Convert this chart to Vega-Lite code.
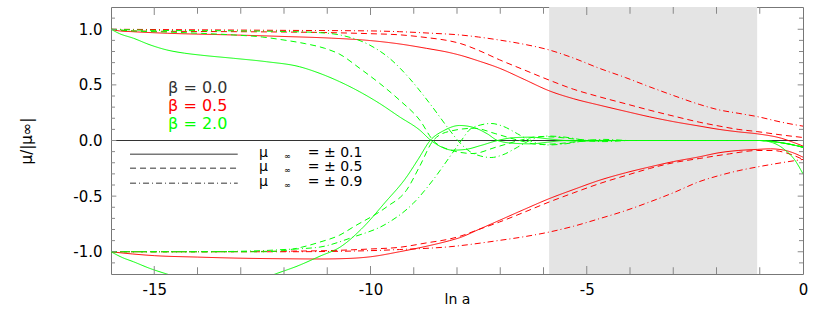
{
 "$schema": "https://vega.github.io/schema/vega-lite/v6.json",
 "width": 692, "height": 267,
 "autosize": {"type": "none"},
 "padding": {"left": 111, "top": 7, "right": 27, "bottom": 37},
 "background": "white",
 "config": {
  "view": {"stroke": "#777", "strokeWidth": 1},
  "font": "DejaVu Sans",
  "axis": {"grid": false, "domain": false, "labelColor": "#000", "titleColor": "#000", "labelFont": "DejaVu Sans", "titleFont": "DejaVu Sans", "titleFontWeight": "normal", "labelOverlap": false, "labelFlush": false}
 },
 "datasets": {
  "curves": [
   {"id":"K","b":"0.0","m":"0.1","x":-16,"y":0},{"id":"K","b":"0.0","m":"0.1","x":0,"y":0},

   {"id":"R1u","b":"0.5","m":"0.1","x":-16,"y":1.0},{"id":"R1u","b":"0.5","m":"0.1","x":-15.8,"y":0.985},{"id":"R1u","b":"0.5","m":"0.1","x":-15.5,"y":0.978},{"id":"R1u","b":"0.5","m":"0.1","x":-14.7,"y":0.964},{"id":"R1u","b":"0.5","m":"0.1","x":-13.2,"y":0.949},{"id":"R1u","b":"0.5","m":"0.1","x":-12,"y":0.935},{"id":"R1u","b":"0.5","m":"0.1","x":-10.9,"y":0.92},{"id":"R1u","b":"0.5","m":"0.1","x":-10,"y":0.898},{"id":"R1u","b":"0.5","m":"0.1","x":-9.33,"y":0.868},{"id":"R1u","b":"0.5","m":"0.1","x":-8.7,"y":0.828},{"id":"R1u","b":"0.5","m":"0.1","x":-8.17,"y":0.79},{"id":"R1u","b":"0.5","m":"0.1","x":-7.94,"y":0.768},{"id":"R1u","b":"0.5","m":"0.1","x":-7.5,"y":0.715},{"id":"R1u","b":"0.5","m":"0.1","x":-7.02,"y":0.65},{"id":"R1u","b":"0.5","m":"0.1","x":-6.45,"y":0.55},{"id":"R1u","b":"0.5","m":"0.1","x":-5.87,"y":0.447},{"id":"R1u","b":"0.5","m":"0.1","x":-5.3,"y":0.375},{"id":"R1u","b":"0.5","m":"0.1","x":-4.71,"y":0.318},{"id":"R1u","b":"0.5","m":"0.1","x":-4.1,"y":0.262},{"id":"R1u","b":"0.5","m":"0.1","x":-3.55,"y":0.213},{"id":"R1u","b":"0.5","m":"0.1","x":-3,"y":0.17},{"id":"R1u","b":"0.5","m":"0.1","x":-2.4,"y":0.13},{"id":"R1u","b":"0.5","m":"0.1","x":-1.94,"y":0.1},{"id":"R1u","b":"0.5","m":"0.1","x":-1.5,"y":0.078},{"id":"R1u","b":"0.5","m":"0.1","x":-1.06,"y":0.06},{"id":"R1u","b":"0.5","m":"0.1","x":-0.5,"y":0.02},{"id":"R1u","b":"0.5","m":"0.1","x":-0.2,"y":-0.02},{"id":"R1u","b":"0.5","m":"0.1","x":0,"y":-0.05},

   {"id":"R5u","b":"0.5","m":"0.5","x":-16,"y":1.0},{"id":"R5u","b":"0.5","m":"0.5","x":-15.5,"y":0.985},{"id":"R5u","b":"0.5","m":"0.5","x":-14,"y":0.98},{"id":"R5u","b":"0.5","m":"0.5","x":-12,"y":0.975},{"id":"R5u","b":"0.5","m":"0.5","x":-11,"y":0.97},{"id":"R5u","b":"0.5","m":"0.5","x":-10,"y":0.96},{"id":"R5u","b":"0.5","m":"0.5","x":-9.33,"y":0.95},{"id":"R5u","b":"0.5","m":"0.5","x":-8.7,"y":0.925},{"id":"R5u","b":"0.5","m":"0.5","x":-8.17,"y":0.895},{"id":"R5u","b":"0.5","m":"0.5","x":-7.94,"y":0.874},{"id":"R5u","b":"0.5","m":"0.5","x":-7.5,"y":0.81},{"id":"R5u","b":"0.5","m":"0.5","x":-7.02,"y":0.726},{"id":"R5u","b":"0.5","m":"0.5","x":-6.45,"y":0.635},{"id":"R5u","b":"0.5","m":"0.5","x":-5.87,"y":0.543},{"id":"R5u","b":"0.5","m":"0.5","x":-5.3,"y":0.46},{"id":"R5u","b":"0.5","m":"0.5","x":-4.71,"y":0.393},{"id":"R5u","b":"0.5","m":"0.5","x":-4.1,"y":0.33},{"id":"R5u","b":"0.5","m":"0.5","x":-3.55,"y":0.273},{"id":"R5u","b":"0.5","m":"0.5","x":-3,"y":0.22},{"id":"R5u","b":"0.5","m":"0.5","x":-2.4,"y":0.165},{"id":"R5u","b":"0.5","m":"0.5","x":-1.94,"y":0.13},{"id":"R5u","b":"0.5","m":"0.5","x":-1.5,"y":0.1},{"id":"R5u","b":"0.5","m":"0.5","x":-1.06,"y":0.08},{"id":"R5u","b":"0.5","m":"0.5","x":-0.5,"y":0.05},{"id":"R5u","b":"0.5","m":"0.5","x":0,"y":0.027},

   {"id":"R9u","b":"0.5","m":"0.9","x":-16,"y":1.0},{"id":"R9u","b":"0.5","m":"0.9","x":-14,"y":0.995},{"id":"R9u","b":"0.5","m":"0.9","x":-12,"y":0.99},{"id":"R9u","b":"0.5","m":"0.9","x":-10,"y":0.985},{"id":"R9u","b":"0.5","m":"0.9","x":-9.33,"y":0.978},{"id":"R9u","b":"0.5","m":"0.9","x":-8.63,"y":0.965},{"id":"R9u","b":"0.5","m":"0.9","x":-7.94,"y":0.949},{"id":"R9u","b":"0.5","m":"0.9","x":-7.5,"y":0.93},{"id":"R9u","b":"0.5","m":"0.9","x":-7.02,"y":0.903},{"id":"R9u","b":"0.5","m":"0.9","x":-6.45,"y":0.865},{"id":"R9u","b":"0.5","m":"0.9","x":-5.87,"y":0.814},{"id":"R9u","b":"0.5","m":"0.9","x":-5.3,"y":0.74},{"id":"R9u","b":"0.5","m":"0.9","x":-4.71,"y":0.649},{"id":"R9u","b":"0.5","m":"0.9","x":-4.1,"y":0.565},{"id":"R9u","b":"0.5","m":"0.9","x":-3.55,"y":0.483},{"id":"R9u","b":"0.5","m":"0.9","x":-3,"y":0.405},{"id":"R9u","b":"0.5","m":"0.9","x":-2.4,"y":0.325},{"id":"R9u","b":"0.5","m":"0.9","x":-1.94,"y":0.275},{"id":"R9u","b":"0.5","m":"0.9","x":-1.5,"y":0.245},{"id":"R9u","b":"0.5","m":"0.9","x":-1.06,"y":0.215},{"id":"R9u","b":"0.5","m":"0.9","x":-0.5,"y":0.165},{"id":"R9u","b":"0.5","m":"0.9","x":0,"y":0.129},

   {"id":"R1l","b":"0.5","m":"0.1","x":-16,"y":-1.0},{"id":"R1l","b":"0.5","m":"0.1","x":-15.5,"y":-1.02},{"id":"R1l","b":"0.5","m":"0.1","x":-15,"y":-1.035},{"id":"R1l","b":"0.5","m":"0.1","x":-14,"y":-1.048},{"id":"R1l","b":"0.5","m":"0.1","x":-13,"y":-1.058},{"id":"R1l","b":"0.5","m":"0.1","x":-12,"y":-1.063},{"id":"R1l","b":"0.5","m":"0.1","x":-11.17,"y":-1.065},{"id":"R1l","b":"0.5","m":"0.1","x":-10.5,"y":-1.06},{"id":"R1l","b":"0.5","m":"0.1","x":-10,"y":-1.045},{"id":"R1l","b":"0.5","m":"0.1","x":-9.33,"y":-1.0},{"id":"R1l","b":"0.5","m":"0.1","x":-8.7,"y":-0.95},{"id":"R1l","b":"0.5","m":"0.1","x":-8.17,"y":-0.9},{"id":"R1l","b":"0.5","m":"0.1","x":-7.94,"y":-0.874},{"id":"R1l","b":"0.5","m":"0.1","x":-7.5,"y":-0.8},{"id":"R1l","b":"0.5","m":"0.1","x":-7.02,"y":-0.718},{"id":"R1l","b":"0.5","m":"0.1","x":-6.45,"y":-0.62},{"id":"R1l","b":"0.5","m":"0.1","x":-5.87,"y":-0.523},{"id":"R1l","b":"0.5","m":"0.1","x":-5.3,"y":-0.44},{"id":"R1l","b":"0.5","m":"0.1","x":-4.71,"y":-0.358},{"id":"R1l","b":"0.5","m":"0.1","x":-4.1,"y":-0.29},{"id":"R1l","b":"0.5","m":"0.1","x":-3.55,"y":-0.238},{"id":"R1l","b":"0.5","m":"0.1","x":-3,"y":-0.19},{"id":"R1l","b":"0.5","m":"0.1","x":-2.4,"y":-0.147},{"id":"R1l","b":"0.5","m":"0.1","x":-1.94,"y":-0.11},{"id":"R1l","b":"0.5","m":"0.1","x":-1.5,"y":-0.09},{"id":"R1l","b":"0.5","m":"0.1","x":-1.06,"y":-0.08},{"id":"R1l","b":"0.5","m":"0.1","x":-0.75,"y":-0.075},{"id":"R1l","b":"0.5","m":"0.1","x":-0.4,"y":-0.09},{"id":"R1l","b":"0.5","m":"0.1","x":-0.2,"y":-0.115},{"id":"R1l","b":"0.5","m":"0.1","x":0,"y":-0.15},

   {"id":"R5l","b":"0.5","m":"0.5","x":-16,"y":-1.0},{"id":"R5l","b":"0.5","m":"0.5","x":-14,"y":-1.0},{"id":"R5l","b":"0.5","m":"0.5","x":-12,"y":-0.995},{"id":"R5l","b":"0.5","m":"0.5","x":-11,"y":-0.99},{"id":"R5l","b":"0.5","m":"0.5","x":-10,"y":-0.975},{"id":"R5l","b":"0.5","m":"0.5","x":-9.33,"y":-0.96},{"id":"R5l","b":"0.5","m":"0.5","x":-8.7,"y":-0.92},{"id":"R5l","b":"0.5","m":"0.5","x":-8.17,"y":-0.885},{"id":"R5l","b":"0.5","m":"0.5","x":-7.94,"y":-0.862},{"id":"R5l","b":"0.5","m":"0.5","x":-7.5,"y":-0.8},{"id":"R5l","b":"0.5","m":"0.5","x":-7.02,"y":-0.733},{"id":"R5l","b":"0.5","m":"0.5","x":-6.45,"y":-0.645},{"id":"R5l","b":"0.5","m":"0.5","x":-5.87,"y":-0.553},{"id":"R5l","b":"0.5","m":"0.5","x":-5.3,"y":-0.47},{"id":"R5l","b":"0.5","m":"0.5","x":-4.71,"y":-0.388},{"id":"R5l","b":"0.5","m":"0.5","x":-4.1,"y":-0.315},{"id":"R5l","b":"0.5","m":"0.5","x":-3.55,"y":-0.252},{"id":"R5l","b":"0.5","m":"0.5","x":-3,"y":-0.2},{"id":"R5l","b":"0.5","m":"0.5","x":-2.4,"y":-0.162},{"id":"R5l","b":"0.5","m":"0.5","x":-1.7,"y":-0.12},{"id":"R5l","b":"0.5","m":"0.5","x":-1.06,"y":-0.09},{"id":"R5l","b":"0.5","m":"0.5","x":-0.7,"y":-0.09},{"id":"R5l","b":"0.5","m":"0.5","x":-0.4,"y":-0.11},{"id":"R5l","b":"0.5","m":"0.5","x":0,"y":-0.17},

   {"id":"R9l","b":"0.5","m":"0.9","x":-16,"y":-1.0},{"id":"R9l","b":"0.5","m":"0.9","x":-14,"y":-1.0},{"id":"R9l","b":"0.5","m":"0.9","x":-12,"y":-1.0},{"id":"R9l","b":"0.5","m":"0.9","x":-10,"y":-0.99},{"id":"R9l","b":"0.5","m":"0.9","x":-9.33,"y":-0.98},{"id":"R9l","b":"0.5","m":"0.9","x":-8.17,"y":-0.955},{"id":"R9l","b":"0.5","m":"0.9","x":-7.02,"y":-0.898},{"id":"R9l","b":"0.5","m":"0.9","x":-6.45,"y":-0.865},{"id":"R9l","b":"0.5","m":"0.9","x":-5.87,"y":-0.823},{"id":"R9l","b":"0.5","m":"0.9","x":-5.3,"y":-0.77},{"id":"R9l","b":"0.5","m":"0.9","x":-4.71,"y":-0.703},{"id":"R9l","b":"0.5","m":"0.9","x":-4.1,"y":-0.63},{"id":"R9l","b":"0.5","m":"0.9","x":-3.55,"y":-0.553},{"id":"R9l","b":"0.5","m":"0.9","x":-3,"y":-0.47},{"id":"R9l","b":"0.5","m":"0.9","x":-2.4,"y":-0.37},{"id":"R9l","b":"0.5","m":"0.9","x":-1.94,"y":-0.315},{"id":"R9l","b":"0.5","m":"0.9","x":-1.5,"y":-0.272},{"id":"R9l","b":"0.5","m":"0.9","x":-1.06,"y":-0.238},{"id":"R9l","b":"0.5","m":"0.9","x":-0.5,"y":-0.2},{"id":"R9l","b":"0.5","m":"0.9","x":0,"y":-0.17},

   {"id":"G1u","b":"2.0","m":"0.1","x":-16,"y":1.0},{"id":"G1u","b":"2.0","m":"0.1","x":-15.8,"y":0.96},{"id":"G1u","b":"2.0","m":"0.1","x":-15.48,"y":0.919},{"id":"G1u","b":"2.0","m":"0.1","x":-15.1,"y":0.86},{"id":"G1u","b":"2.0","m":"0.1","x":-14.71,"y":0.814},{"id":"G1u","b":"2.0","m":"0.1","x":-14.3,"y":0.785},{"id":"G1u","b":"2.0","m":"0.1","x":-13.94,"y":0.768},{"id":"G1u","b":"2.0","m":"0.1","x":-13.17,"y":0.739},{"id":"G1u","b":"2.0","m":"0.1","x":-12.4,"y":0.708},{"id":"G1u","b":"2.0","m":"0.1","x":-11.64,"y":0.663},{"id":"G1u","b":"2.0","m":"0.1","x":-11.17,"y":0.603},{"id":"G1u","b":"2.0","m":"0.1","x":-10.71,"y":0.528},{"id":"G1u","b":"2.0","m":"0.1","x":-10.25,"y":0.438},{"id":"G1u","b":"2.0","m":"0.1","x":-9.79,"y":0.333},{"id":"G1u","b":"2.0","m":"0.1","x":-9.33,"y":0.213},{"id":"G1u","b":"2.0","m":"0.1","x":-8.86,"y":0.093},{"id":"G1u","b":"2.0","m":"0.1","x":-8.6,"y":0.0},{"id":"G1u","b":"2.0","m":"0.1","x":-8.35,"y":-0.06},{"id":"G1u","b":"2.0","m":"0.1","x":-8.1,"y":-0.087},{"id":"G1u","b":"2.0","m":"0.1","x":-7.8,"y":-0.08},{"id":"G1u","b":"2.0","m":"0.1","x":-7.45,"y":-0.045},{"id":"G1u","b":"2.0","m":"0.1","x":-7.06,"y":0.0},{"id":"G1u","b":"2.0","m":"0.1","x":-6.7,"y":0.025},{"id":"G1u","b":"2.0","m":"0.1","x":-6.3,"y":0.03},{"id":"G1u","b":"2.0","m":"0.1","x":-5.9,"y":0.015},{"id":"G1u","b":"2.0","m":"0.1","x":-5.5,"y":0.0},{"id":"G1u","b":"2.0","m":"0.1","x":-5,"y":-0.005},{"id":"G1u","b":"2.0","m":"0.1","x":-4,"y":0.0},{"id":"G1u","b":"2.0","m":"0.1","x":-1,"y":0.0},{"id":"G1u","b":"2.0","m":"0.1","x":-0.7,"y":-0.02},{"id":"G1u","b":"2.0","m":"0.1","x":-0.4,"y":-0.09},{"id":"G1u","b":"2.0","m":"0.1","x":-0.2,"y":-0.17},{"id":"G1u","b":"2.0","m":"0.1","x":0,"y":-0.3},

   {"id":"G1l","b":"2.0","m":"0.1","x":-16,"y":-1.0},{"id":"G1l","b":"2.0","m":"0.1","x":-15.75,"y":-1.05},{"id":"G1l","b":"2.0","m":"0.1","x":-15.48,"y":-1.09},{"id":"G1l","b":"2.0","m":"0.1","x":-15.1,"y":-1.15},{"id":"G1l","b":"2.0","m":"0.1","x":-14.71,"y":-1.2},{"id":"G1l","b":"2.0","m":"0.1","x":-14.2,"y":-1.26},{"id":"G1l","b":"2.0","m":"0.1","x":-13.6,"y":-1.3},{"id":"G1l","b":"2.0","m":"0.1","x":-13.0,"y":-1.3},{"id":"G1l","b":"2.0","m":"0.1","x":-12.6,"y":-1.26},{"id":"G1l","b":"2.0","m":"0.1","x":-12.2,"y":-1.2},{"id":"G1l","b":"2.0","m":"0.1","x":-11.7,"y":-1.13},{"id":"G1l","b":"2.0","m":"0.1","x":-11.17,"y":-1.04},{"id":"G1l","b":"2.0","m":"0.1","x":-10.71,"y":-0.96},{"id":"G1l","b":"2.0","m":"0.1","x":-10.17,"y":-0.78},{"id":"G1l","b":"2.0","m":"0.1","x":-9.67,"y":-0.56},{"id":"G1l","b":"2.0","m":"0.1","x":-9.17,"y":-0.33},{"id":"G1l","b":"2.0","m":"0.1","x":-8.9,"y":-0.17},{"id":"G1l","b":"2.0","m":"0.1","x":-8.62,"y":0.0},{"id":"G1l","b":"2.0","m":"0.1","x":-8.3,"y":0.09},{"id":"G1l","b":"2.0","m":"0.1","x":-7.94,"y":0.135},{"id":"G1l","b":"2.0","m":"0.1","x":-7.6,"y":0.115},{"id":"G1l","b":"2.0","m":"0.1","x":-7.3,"y":0.06},{"id":"G1l","b":"2.0","m":"0.1","x":-7.06,"y":0.0},{"id":"G1l","b":"2.0","m":"0.1","x":-6.7,"y":-0.025},{"id":"G1l","b":"2.0","m":"0.1","x":-6.3,"y":-0.03},{"id":"G1l","b":"2.0","m":"0.1","x":-5.9,"y":-0.015},{"id":"G1l","b":"2.0","m":"0.1","x":-5.5,"y":0.0},{"id":"G1l","b":"2.0","m":"0.1","x":-4,"y":0.0},{"id":"G1l","b":"2.0","m":"0.1","x":-1,"y":0.0},{"id":"G1l","b":"2.0","m":"0.1","x":-0.5,"y":-0.02},{"id":"G1l","b":"2.0","m":"0.1","x":0,"y":-0.06},

   {"id":"G5u","b":"2.0","m":"0.5","x":-16,"y":1.0},{"id":"G5u","b":"2.0","m":"0.5","x":-15.5,"y":0.985},{"id":"G5u","b":"2.0","m":"0.5","x":-14.7,"y":0.975},{"id":"G5u","b":"2.0","m":"0.5","x":-13.9,"y":0.963},{"id":"G5u","b":"2.0","m":"0.5","x":-13.17,"y":0.949},{"id":"G5u","b":"2.0","m":"0.5","x":-12.5,"y":0.93},{"id":"G5u","b":"2.0","m":"0.5","x":-12.0,"y":0.903},{"id":"G5u","b":"2.0","m":"0.5","x":-11.5,"y":0.87},{"id":"G5u","b":"2.0","m":"0.5","x":-11.06,"y":0.829},{"id":"G5u","b":"2.0","m":"0.5","x":-10.71,"y":0.775},{"id":"G5u","b":"2.0","m":"0.5","x":-10.25,"y":0.649},{"id":"G5u","b":"2.0","m":"0.5","x":-9.79,"y":0.514},{"id":"G5u","b":"2.0","m":"0.5","x":-9.33,"y":0.363},{"id":"G5u","b":"2.0","m":"0.5","x":-8.86,"y":0.183},{"id":"G5u","b":"2.0","m":"0.5","x":-8.55,"y":0.0},{"id":"G5u","b":"2.0","m":"0.5","x":-8.2,"y":-0.08},{"id":"G5u","b":"2.0","m":"0.5","x":-7.63,"y":-0.117},{"id":"G5u","b":"2.0","m":"0.5","x":-7.1,"y":-0.06},{"id":"G5u","b":"2.0","m":"0.5","x":-6.56,"y":0.0},{"id":"G5u","b":"2.0","m":"0.5","x":-6.1,"y":0.035},{"id":"G5u","b":"2.0","m":"0.5","x":-5.7,"y":0.03},{"id":"G5u","b":"2.0","m":"0.5","x":-5.2,"y":0.01},{"id":"G5u","b":"2.0","m":"0.5","x":-4.5,"y":0.0},{"id":"G5u","b":"2.0","m":"0.5","x":-1,"y":0.0},{"id":"G5u","b":"2.0","m":"0.5","x":-0.5,"y":-0.02},{"id":"G5u","b":"2.0","m":"0.5","x":0,"y":-0.06},

   {"id":"G5l","b":"2.0","m":"0.5","x":-16,"y":-1.0},{"id":"G5l","b":"2.0","m":"0.5","x":-14,"y":-1.0},{"id":"G5l","b":"2.0","m":"0.5","x":-12.5,"y":-1.0},{"id":"G5l","b":"2.0","m":"0.5","x":-12.02,"y":-0.99},{"id":"G5l","b":"2.0","m":"0.5","x":-11.6,"y":-0.96},{"id":"G5l","b":"2.0","m":"0.5","x":-11.17,"y":-0.913},{"id":"G5l","b":"2.0","m":"0.5","x":-10.71,"y":-0.85},{"id":"G5l","b":"2.0","m":"0.5","x":-10.4,"y":-0.778},{"id":"G5l","b":"2.0","m":"0.5","x":-9.63,"y":-0.598},{"id":"G5l","b":"2.0","m":"0.5","x":-9.17,"y":-0.448},{"id":"G5l","b":"2.0","m":"0.5","x":-8.86,"y":-0.23},{"id":"G5l","b":"2.0","m":"0.5","x":-8.55,"y":0.0},{"id":"G5l","b":"2.0","m":"0.5","x":-8.2,"y":0.08},{"id":"G5l","b":"2.0","m":"0.5","x":-7.6,"y":0.11},{"id":"G5l","b":"2.0","m":"0.5","x":-7.1,"y":0.06},{"id":"G5l","b":"2.0","m":"0.5","x":-6.56,"y":0.0},{"id":"G5l","b":"2.0","m":"0.5","x":-6.1,"y":-0.035},{"id":"G5l","b":"2.0","m":"0.5","x":-5.7,"y":-0.03},{"id":"G5l","b":"2.0","m":"0.5","x":-5.2,"y":-0.01},{"id":"G5l","b":"2.0","m":"0.5","x":-4.5,"y":0.0},{"id":"G5l","b":"2.0","m":"0.5","x":-1,"y":0.0},{"id":"G5l","b":"2.0","m":"0.5","x":-0.5,"y":-0.02},{"id":"G5l","b":"2.0","m":"0.5","x":0,"y":-0.06},

   {"id":"G9u","b":"2.0","m":"0.9","x":-16,"y":1.0},{"id":"G9u","b":"2.0","m":"0.9","x":-15,"y":0.99},{"id":"G9u","b":"2.0","m":"0.9","x":-13,"y":0.985},{"id":"G9u","b":"2.0","m":"0.9","x":-12,"y":0.98},{"id":"G9u","b":"2.0","m":"0.9","x":-11.2,"y":0.97},{"id":"G9u","b":"2.0","m":"0.9","x":-10.71,"y":0.949},{"id":"G9u","b":"2.0","m":"0.9","x":-10.02,"y":0.858},{"id":"G9u","b":"2.0","m":"0.9","x":-9.56,"y":0.739},{"id":"G9u","b":"2.0","m":"0.9","x":-9.1,"y":0.559},{"id":"G9u","b":"2.0","m":"0.9","x":-8.63,"y":0.333},{"id":"G9u","b":"2.0","m":"0.9","x":-8.17,"y":0.093},{"id":"G9u","b":"2.0","m":"0.9","x":-7.98,"y":0.0},{"id":"G9u","b":"2.0","m":"0.9","x":-7.7,"y":-0.1},{"id":"G9u","b":"2.0","m":"0.9","x":-7.45,"y":-0.14},{"id":"G9u","b":"2.0","m":"0.9","x":-7.21,"y":-0.153},{"id":"G9u","b":"2.0","m":"0.9","x":-6.95,"y":-0.13},{"id":"G9u","b":"2.0","m":"0.9","x":-6.6,"y":-0.06},{"id":"G9u","b":"2.0","m":"0.9","x":-6.32,"y":0.0},{"id":"G9u","b":"2.0","m":"0.9","x":-5.9,"y":0.04},{"id":"G9u","b":"2.0","m":"0.9","x":-5.5,"y":0.03},{"id":"G9u","b":"2.0","m":"0.9","x":-5.0,"y":0.0},{"id":"G9u","b":"2.0","m":"0.9","x":-4.6,"y":-0.01},{"id":"G9u","b":"2.0","m":"0.9","x":-4,"y":0.0},{"id":"G9u","b":"2.0","m":"0.9","x":-1,"y":0.0},{"id":"G9u","b":"2.0","m":"0.9","x":-0.5,"y":-0.02},{"id":"G9u","b":"2.0","m":"0.9","x":0,"y":-0.06},

   {"id":"G9l","b":"2.0","m":"0.9","x":-16,"y":-1.0},{"id":"G9l","b":"2.0","m":"0.9","x":-14,"y":-1.0},{"id":"G9l","b":"2.0","m":"0.9","x":-12.5,"y":-0.99},{"id":"G9l","b":"2.0","m":"0.9","x":-12,"y":-0.98},{"id":"G9l","b":"2.0","m":"0.9","x":-11.5,"y":-0.97},{"id":"G9l","b":"2.0","m":"0.9","x":-11.17,"y":-0.958},{"id":"G9l","b":"2.0","m":"0.9","x":-10.4,"y":-0.868},{"id":"G9l","b":"2.0","m":"0.9","x":-9.63,"y":-0.748},{"id":"G9l","b":"2.0","m":"0.9","x":-9.02,"y":-0.568},{"id":"G9l","b":"2.0","m":"0.9","x":-8.56,"y":-0.358},{"id":"G9l","b":"2.0","m":"0.9","x":-8.17,"y":-0.148},{"id":"G9l","b":"2.0","m":"0.9","x":-7.9,"y":0.0},{"id":"G9l","b":"2.0","m":"0.9","x":-7.7,"y":0.1},{"id":"G9l","b":"2.0","m":"0.9","x":-7.45,"y":0.14},{"id":"G9l","b":"2.0","m":"0.9","x":-7.21,"y":0.153},{"id":"G9l","b":"2.0","m":"0.9","x":-6.95,"y":0.13},{"id":"G9l","b":"2.0","m":"0.9","x":-6.6,"y":0.06},{"id":"G9l","b":"2.0","m":"0.9","x":-6.32,"y":0.0},{"id":"G9l","b":"2.0","m":"0.9","x":-5.9,"y":-0.04},{"id":"G9l","b":"2.0","m":"0.9","x":-5.5,"y":-0.03},{"id":"G9l","b":"2.0","m":"0.9","x":-5.0,"y":0.0},{"id":"G9l","b":"2.0","m":"0.9","x":-4.6,"y":0.01},{"id":"G9l","b":"2.0","m":"0.9","x":-4,"y":0.0},{"id":"G9l","b":"2.0","m":"0.9","x":-1,"y":0.0},{"id":"G9l","b":"2.0","m":"0.9","x":-0.5,"y":-0.02},{"id":"G9l","b":"2.0","m":"0.9","x":0,"y":-0.06}
  ],
  "xt": [
   {"v": -15, "k": "xM"}, {"v": -10, "k": "xM"}, {"v": -5, "k": "xM"},
   {"v": -14, "k": "xm"}, {"v": -13, "k": "xm"}, {"v": -12, "k": "xm"}, {"v": -11, "k": "xm"}, {"v": -9, "k": "xm"}, {"v": -8, "k": "xm"}, {"v": -7, "k": "xm"}, {"v": -6, "k": "xm"}, {"v": -4, "k": "xm"}, {"v": -3, "k": "xm"}, {"v": -2, "k": "xm"}, {"v": -1, "k": "xm"}
  ],
  "yt": [
   {"v": -1.0, "k": "yM"}, {"v": -0.5, "k": "yM"}, {"v": 0, "k": "yM"}, {"v": 0.5, "k": "yM"}, {"v": 1.0, "k": "yM"},
   {"v": -1.1, "k": "ym"}, {"v": -0.9, "k": "ym"}, {"v": -0.8, "k": "ym"}, {"v": -0.7, "k": "ym"}, {"v": -0.6, "k": "ym"}, {"v": -0.4, "k": "ym"}, {"v": -0.3, "k": "ym"}, {"v": -0.2, "k": "ym"}, {"v": -0.1, "k": "ym"},
   {"v": 0.1, "k": "ym"}, {"v": 0.2, "k": "ym"}, {"v": 0.3, "k": "ym"}, {"v": 0.4, "k": "ym"}, {"v": 0.6, "k": "ym"}, {"v": 0.7, "k": "ym"}, {"v": 0.8, "k": "ym"}, {"v": 0.9, "k": "ym"}, {"v": 1.1, "k": "ym"}
  ]
 },
 "layer": [
  {
   "data": {"values": [{"x1": -5.87, "x2": -1.06}]},
   "mark": {"type": "rect", "fill": "#e4e4e4"},
   "encoding": {
    "x": {"field": "x1", "type": "quantitative", "scale": {"domain": [-16, 0], "nice": false, "zero": false}, "axis": null},
    "x2": {"field": "x2"}
   }
  },
  {
   "data": {"name": "curves"},
   "mark": {"type": "line", "clip": true, "strokeWidth": 1, "interpolate": "monotone"},
   "encoding": {
    "x": {"field": "x", "type": "quantitative", "scale": {"domain": [-16, 0], "nice": false, "zero": false},
      "axis": {"orient": "bottom", "values": [-15, -10, -5, 0], "ticks": false, "labelPadding": 8, "labelFontSize": 15,
        "labelExpr": "datum.value < 0 ? '-' + format(-datum.value, 'd') : format(datum.value, 'd')",
        "title": "ln a", "titleFontSize": 14, "titlePadding": -5}},
    "y": {"field": "y", "type": "quantitative", "scale": {"domain": [-1.2, 1.2], "nice": false, "zero": false},
      "axis": {"orient": "left", "values": [-1, -0.5, 0, 0.5, 1], "ticks": false, "labelPadding": 9, "labelFontSize": 15,
        "labelExpr": "datum.value < 0 ? '-' + format(-datum.value, '.1f') : format(datum.value, '.1f')",
        "title": "μ/|μ∞|", "titleFontSize": 15, "titlePadding": 38}},
    "color": {"field": "b", "type": "nominal", "scale": {"domain": ["0.0", "0.5", "2.0"], "range": ["#333333", "#ff0000", "#00ff00"]}, "legend": null},
    "strokeDash": {"field": "m", "type": "nominal", "scale": {"domain": ["0.1", "0.5", "0.9"], "range": [[1, 0], [6, 4], [6, 3, 1, 3]]}, "legend": null},
    "detail": {"field": "id"}
   }
  },
  {
   "data": {"name": "xt"},
   "mark": {"type": "tick", "orient": "vertical", "clip": true, "color": "#888888", "thickness": 1, "opacity": 1},
   "encoding": {
    "x": {"field": "v", "type": "quantitative", "axis": null},
    "y": {"datum": -1.2, "type": "quantitative", "axis": null},
    "size": {"field": "k", "type": "nominal", "scale": {"domain": ["xM", "xm", "yM", "ym"], "range": [16, 8, 42, 20]}, "legend": null}
   }
  },
  {
   "data": {"name": "xt"},
   "mark": {"type": "tick", "orient": "vertical", "clip": true, "color": "#888888", "thickness": 1, "opacity": 1},
   "encoding": {
    "x": {"field": "v", "type": "quantitative", "axis": null},
    "y": {"datum": 1.2, "type": "quantitative", "axis": null},
    "size": {"field": "k", "type": "nominal", "legend": null}
   }
  },
  {
   "data": {"name": "yt"},
   "mark": {"type": "tick", "orient": "horizontal", "clip": true, "color": "#888888", "thickness": 1, "opacity": 1},
   "encoding": {
    "y": {"field": "v", "type": "quantitative", "axis": null},
    "x": {"datum": -16, "type": "quantitative", "axis": null},
    "size": {"field": "k", "type": "nominal", "legend": null}
   }
  },
  {
   "data": {"name": "yt"},
   "mark": {"type": "tick", "orient": "horizontal", "clip": true, "color": "#888888", "thickness": 1, "opacity": 1},
   "encoding": {
    "y": {"field": "v", "type": "quantitative", "axis": null},
    "x": {"datum": 0, "type": "quantitative", "axis": null},
    "size": {"field": "k", "type": "nominal", "legend": null}
   }
  },
  {
   "data": {"values": [
     {"m": "0.1", "x": -15.56, "y": -0.123}, {"m": "0.1", "x": -13.07, "y": -0.123},
     {"m": "0.5", "x": -15.56, "y": -0.25}, {"m": "0.5", "x": -13.07, "y": -0.25},
     {"m": "0.9", "x": -15.56, "y": -0.385}, {"m": "0.9", "x": -13.07, "y": -0.385}
   ]},
   "mark": {"type": "line", "color": "#777777", "strokeWidth": 1.5},
   "encoding": {
    "x": {"field": "x", "type": "quantitative", "axis": null},
    "y": {"field": "y", "type": "quantitative", "axis": null},
    "strokeDash": {"field": "m", "type": "nominal", "legend": null},
    "detail": {"field": "m"}
   }
  },
  {
   "data": {"values": [
     {"t": "β = 0.0", "b": "0.0", "x": -14.68, "y": 0.471},
     {"t": "β = 0.5", "b": "0.5", "x": -14.68, "y": 0.309},
     {"t": "β = 2.0", "b": "2.0", "x": -14.68, "y": 0.147}
   ]},
   "mark": {"type": "text", "align": "left", "baseline": "middle", "fontSize": 16, "font": "DejaVu Sans"},
   "encoding": {
    "x": {"field": "x", "type": "quantitative", "axis": null},
    "y": {"field": "y", "type": "quantitative", "axis": null},
    "text": {"field": "t"},
    "color": {"field": "b", "type": "nominal", "legend": null}
   }
  },
  {
   "data": {"values": [
     {"t": "μ", "x": -12.58, "y": -0.112}, {"t": "= ± 0.1", "x": -11.45, "y": -0.112},
     {"t": "μ", "x": -12.58, "y": -0.238}, {"t": "= ± 0.5", "x": -11.45, "y": -0.238},
     {"t": "μ", "x": -12.58, "y": -0.373}, {"t": "= ± 0.9", "x": -11.45, "y": -0.373}
   ]},
   "mark": {"type": "text", "align": "left", "baseline": "middle", "fontSize": 14, "font": "DejaVu Sans", "color": "#000000"},
   "encoding": {
    "x": {"field": "x", "type": "quantitative", "axis": null},
    "y": {"field": "y", "type": "quantitative", "axis": null},
    "text": {"field": "t"}
   }
  },
  {
   "data": {"values": [
     {"t": "∞", "x": -12.0, "y": -0.145},
     {"t": "∞", "x": -12.0, "y": -0.271},
     {"t": "∞", "x": -12.0, "y": -0.406}
   ]},
   "mark": {"type": "text", "align": "left", "baseline": "middle", "fontSize": 8, "font": "DejaVu Sans", "color": "#000000"},
   "encoding": {
    "x": {"field": "x", "type": "quantitative", "axis": null},
    "y": {"field": "y", "type": "quantitative", "axis": null},
    "text": {"field": "t"}
   }
  }
 ],
 "resolve": {"axis": {"x": "independent", "y": "independent"}}
}
